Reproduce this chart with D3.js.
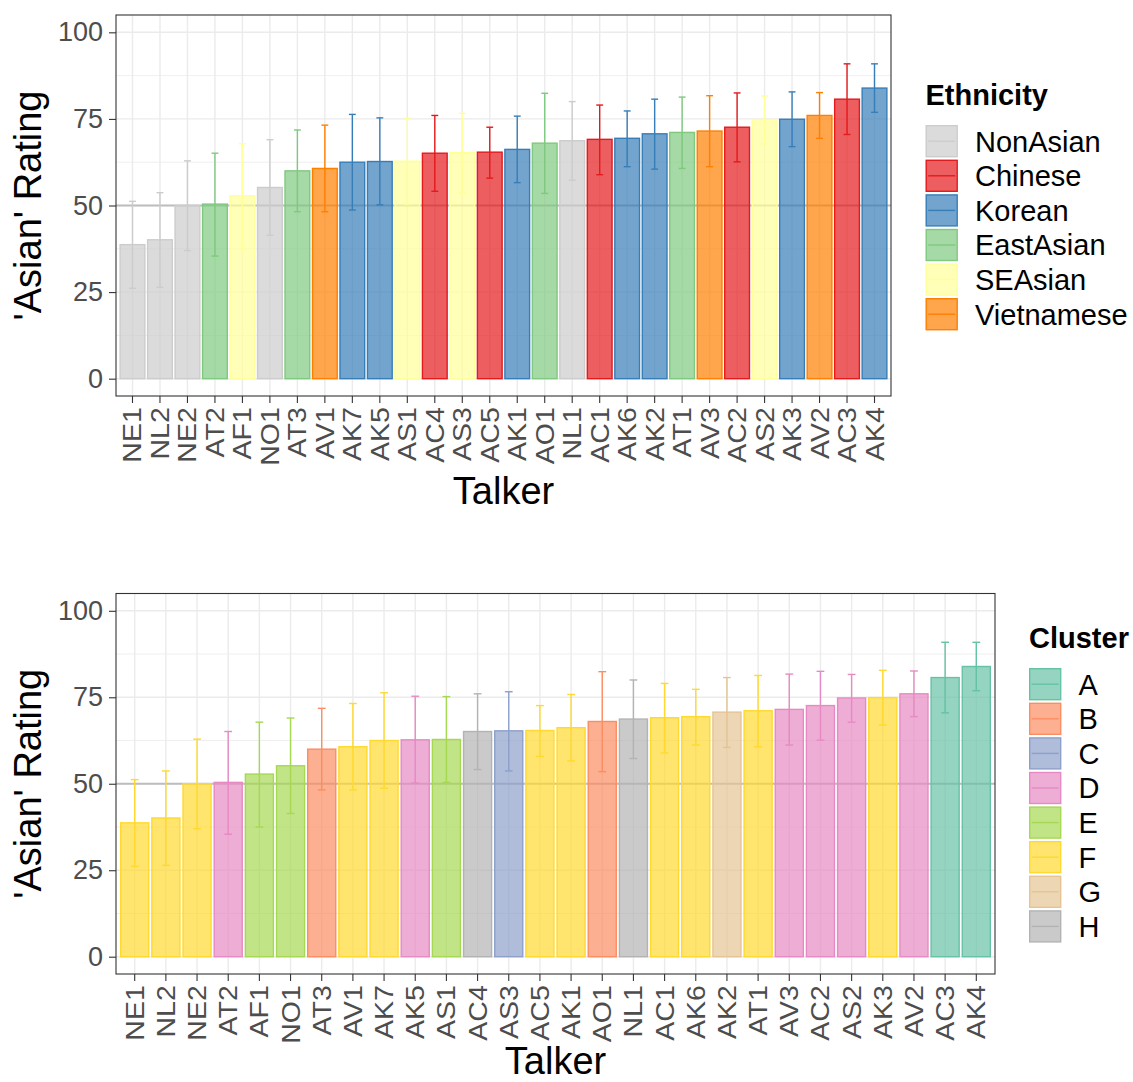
<!DOCTYPE html>
<html>
<head>
<meta charset="utf-8">
<script src="https://cdn.jsdelivr.net/npm/d3@7"></script>
<style>
  html, body { margin: 0; padding: 0; background: #fff; }
  svg { display: block; font-family: "Liberation Sans", Arial, Helvetica, sans-serif; }
</style>
</head>
<body>
<svg id="chart" width="1133" height="1082"></svg>
<script>
// Talkers, ordered by mean 'Asian' rating
const talkers = ["NE1","NL2","NE2","AT2","AF1","NO1","AT3","AV1","AK7","AK5","AS1","AC4","AS3","AC5",
                 "AK1","AO1","NL1","AC1","AK6","AK2","AT1","AV3","AC2","AS2","AK3","AV2","AC3","AK4"];

// Mean rating per talker
const meanRating = [38.7, 40.1, 50.0, 50.4, 52.8, 55.2, 60.0, 60.7, 62.5, 62.7, 62.8, 65.1, 65.3, 65.4,
                    66.2, 68.0, 68.7, 69.1, 69.4, 70.7, 71.1, 71.5, 72.6, 74.8, 74.9, 76.0, 80.7, 83.9];

// Error bar limits
const lowerLimit = [26.1, 26.4, 37.0, 35.4, 37.5, 41.4, 48.2, 48.2, 48.7, 50.2, 50.4, 54.1, 53.7, 57.9,
                    56.6, 53.5, 57.3, 58.9, 61.2, 60.5, 60.7, 61.2, 62.6, 67.8, 67.0, 69.4, 70.5, 76.9];
const upperLimit = [51.2, 53.7, 62.9, 65.1, 67.8, 69.0, 71.8, 73.2, 76.3, 75.3, 75.2, 76.0, 76.6, 72.6,
                    75.8, 82.4, 80.0, 79.0, 77.3, 80.7, 81.3, 81.7, 82.5, 81.6, 82.8, 82.6, 90.9, 90.9];

// Ethnicity of each talker
const ethnicity = ["NonAsian","NonAsian","NonAsian","EastAsian","SEAsian","NonAsian","EastAsian","Vietnamese",
                   "Korean","Korean","SEAsian","Chinese","SEAsian","Chinese","Korean","EastAsian","NonAsian",
                   "Chinese","Korean","Korean","EastAsian","Vietnamese","Chinese","SEAsian","Korean",
                   "Vietnamese","Chinese","Korean"];

// Cluster membership of each talker
const cluster = ["F","F","F","D","E","E","B","F","F","D","E","H","C","F",
                 "F","B","H","F","F","G","F","D","D","D","F","D","A","A"];

const ethnicityLevels = ["NonAsian","Chinese","Korean","EastAsian","SEAsian","Vietnamese"];
const ethnicityColors = ["#CCCCCC","#E41A1C","#377EB8","#7FC97F","#FFFF99","#FF7F00"];

const clusterLevels = ["A","B","C","D","E","F","G","H"];
const clusterColors = ["#66C2A5","#FC8D62","#8DA0CB","#E78AC3","#A6D854","#FFD92F","#E5C494","#B3B3B3"];

const yMajorTicks = [0, 25, 50, 75, 100];
const yMinorTicks = [12.5, 37.5, 62.5, 87.5];
const referenceLine = 50;

const rows = talkers.map((t, i) => ({
  talker: t, mean: meanRating[i], lo: lowerLimit[i], hi: upperLimit[i],
  Ethnicity: ethnicity[i], Cluster: cluster[i]
}));

const svg = d3.select("#chart");

function drawPanel(cfg) {
  const g = svg.append("g");
  const x = d3.scaleBand().domain(talkers)
    .range([cfg.left, cfg.right]).paddingInner(0.1).paddingOuter(0.15);
  const y = d3.scaleLinear().domain([-5, 105]).range([cfg.bottom, cfg.top]);
  const color = d3.scaleOrdinal().domain(cfg.levels).range(cfg.colors);
  const cx = d => x(d) + x.bandwidth() / 2;

  // panel background + grid
  g.append("rect").attr("x", cfg.left).attr("y", cfg.top)
    .attr("width", cfg.right - cfg.left).attr("height", cfg.bottom - cfg.top).attr("fill", "#fff");
  g.selectAll(".ymin").data(yMinorTicks).join("line")
    .attr("x1", cfg.left).attr("x2", cfg.right)
    .attr("y1", d => y(d)).attr("y2", d => y(d))
    .attr("stroke", "#ebebeb").attr("stroke-width", 0.8);
  g.selectAll(".ymaj").data(yMajorTicks).join("line")
    .attr("x1", cfg.left).attr("x2", cfg.right)
    .attr("y1", d => y(d)).attr("y2", d => y(d))
    .attr("stroke", "#ebebeb").attr("stroke-width", 1.4);
  g.selectAll(".xmaj").data(talkers).join("line")
    .attr("x1", d => cx(d)).attr("x2", d => cx(d))
    .attr("y1", cfg.top).attr("y2", cfg.bottom)
    .attr("stroke", "#ebebeb").attr("stroke-width", 1.4);

  // reference line at 50
  g.append("line").attr("x1", cfg.left).attr("x2", cfg.right)
    .attr("y1", y(referenceLine)).attr("y2", y(referenceLine))
    .attr("stroke", "#bdbdbd").attr("stroke-width", 1.8);

  // bars
  g.selectAll(".bar").data(rows).join("rect")
    .attr("x", d => x(d.talker)).attr("width", x.bandwidth())
    .attr("y", d => y(d.mean)).attr("height", d => y(0) - y(d.mean))
    .attr("fill", d => color(d[cfg.key])).attr("fill-opacity", 0.7)
    .attr("stroke", d => color(d[cfg.key])).attr("stroke-width", 1.4);

  // error bars
  const capHalf = x.step() * 0.125;
  const eb = g.selectAll(".eb").data(rows).join("g")
    .attr("stroke", d => color(d[cfg.key])).attr("stroke-width", 1.4);
  eb.append("line").attr("x1", d => cx(d.talker)).attr("x2", d => cx(d.talker))
    .attr("y1", d => y(d.lo)).attr("y2", d => y(d.hi));
  eb.append("line").attr("x1", d => cx(d.talker) - capHalf).attr("x2", d => cx(d.talker) + capHalf)
    .attr("y1", d => y(d.hi)).attr("y2", d => y(d.hi));
  eb.append("line").attr("x1", d => cx(d.talker) - capHalf).attr("x2", d => cx(d.talker) + capHalf)
    .attr("y1", d => y(d.lo)).attr("y2", d => y(d.lo));

  // panel border
  g.append("rect").attr("x", cfg.left).attr("y", cfg.top)
    .attr("width", cfg.right - cfg.left).attr("height", cfg.bottom - cfg.top)
    .attr("fill", "none").attr("stroke", "#333").attr("stroke-width", 1.1);

  // axes
  const yAxis = g.append("g").attr("transform", `translate(${cfg.left},0)`)
    .call(d3.axisLeft(y).tickValues(yMajorTicks).tickSize(7).tickPadding(6));
  yAxis.select(".domain").remove();
  yAxis.selectAll(".tick line").attr("stroke", "#333").attr("stroke-width", 1.1);
  yAxis.selectAll(".tick text").attr("fill", "#4d4d4d").attr("font-size", 27)
    .attr("font-family", "Liberation Sans, Arial, sans-serif");

  // x tick labels, rotated to read bottom-to-top
  const xAxis = g.append("g").attr("transform", `translate(0,${cfg.bottom})`)
    .call(d3.axisBottom(x).tickSize(7).tickPadding(4));
  xAxis.select(".domain").remove();
  xAxis.selectAll(".tick line").attr("stroke", "#333").attr("stroke-width", 1.1);
  xAxis.selectAll(".tick text").attr("fill", "#4d4d4d").attr("font-size", 25)
    .attr("font-family", "Liberation Sans, Arial, sans-serif")
    .attr("text-anchor", "end").attr("transform", "translate(0,5) rotate(-90) scale(1.14,1)")
    .attr("x", 0).attr("y", 0).attr("dx", -5.5).attr("dy", "0.36em");

  // axis titles
  g.append("text").attr("x", (cfg.left + cfg.right) / 2).attr("y", cfg.xTitleY)
    .attr("text-anchor", "middle").attr("font-size", 38).attr("fill", "#000").text("Talker");
  g.append("text")
    .attr("transform", `translate(41,${(cfg.top + cfg.bottom) / 2}) rotate(-90)`)
    .attr("text-anchor", "middle").attr("font-size", 38).attr("fill", "#000").text("'Asian' Rating");

  // legend
  const lg = g.append("g");
  lg.append("text").attr("x", cfg.legendX).attr("y", cfg.legendTitleY)
    .attr("font-size", 29).attr("font-weight", "bold").attr("fill", "#000").text(cfg.title);
  const keyStep = 34.6, keySize = 32.4;
  const item = lg.selectAll(".item").data(cfg.levels).join("g")
    .attr("transform", (d, i) => `translate(${cfg.legendX},${cfg.legendKeyTop + i * keyStep})`);
  item.append("rect").attr("x", 0.7).attr("y", 0.7).attr("width", keySize - 1.4).attr("height", keySize - 1.4)
    .attr("fill", d => color(d)).attr("fill-opacity", 0.7)
    .attr("stroke", d => color(d)).attr("stroke-width", 1.4);
  item.append("line").attr("x1", 2.7).attr("x2", keySize - 2.7)
    .attr("y1", keySize / 2).attr("y2", keySize / 2)
    .attr("stroke", d => color(d)).attr("stroke-width", 1.4);
  item.append("text").attr("x", cfg.legendLabelDx).attr("y", keySize / 2).attr("dy", "0.36em")
    .attr("font-size", 29).attr("fill", "#000").text(d => d);
}

drawPanel({
  left: 116, right: 891, top: 15, bottom: 396, xTitleY: 504,
  key: "Ethnicity", title: "Ethnicity", levels: ethnicityLevels, colors: ethnicityColors,
  legendX: 925.5, legendTitleY: 105, legendKeyTop: 125, legendLabelDx: 49.5
});

drawPanel({
  left: 116, right: 995, top: 593.5, bottom: 974, xTitleY: 1074,
  key: "Cluster", title: "Cluster", levels: clusterLevels, colors: clusterColors,
  legendX: 1029, legendTitleY: 648, legendKeyTop: 668, legendLabelDx: 49.5
});
</script>
</body>
</html>
